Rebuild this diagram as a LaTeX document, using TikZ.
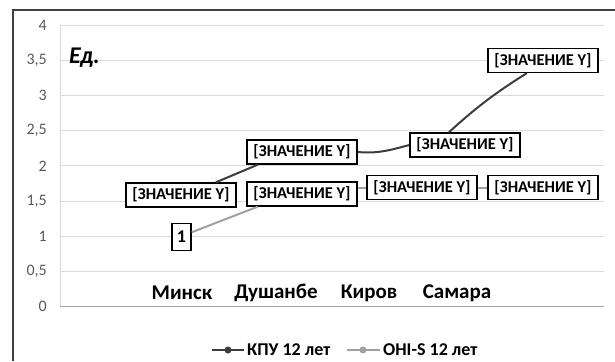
\documentclass[tikz,border=0pt]{standalone}
\usepackage{fontspec}
\setmainfont{Carlito}
\definecolor{darkln}{HTML}{3C3C3C}
\definecolor{grayln}{HTML}{A0A0A0}
\definecolor{gridc}{HTML}{D9D9D9}
\definecolor{axisc}{HTML}{A6A6A6}
\definecolor{ticklab}{HTML}{595959}
\definecolor{framec}{HTML}{404040}
\tikzset{
  vbox/.style={draw=black, line width=1.3pt, fill=white, inner sep=0pt, minimum width=110pt, minimum height=24pt, font=\bfseries\fontsize{16.5}{16.5}\selectfont},
  grid line/.style={draw=gridc, line width=1pt},
  ylab/.style={anchor=east, text=ticklab, font=\fontsize{16}{16}\selectfont, inner sep=0pt},
  catlab/.style={font=\bfseries\fontsize{21}{21}\selectfont, inner sep=0pt},
  kpu/.style={draw=darkln, line width=2pt},
  ohi/.style={draw=grayln, line width=2pt},
  legtext/.style={font=\bfseries\fontsize{18}{18}\selectfont, anchor=west, inner sep=0pt}
}
\begin{document}
\begin{tikzpicture}[x=1pt,y=-1pt]
\useasboundingbox (0,0) rectangle (615,361);
% frame
\draw[framec, line width=1.5pt] (13,361) -- (13,10) -- (615,10);
% grid
\foreach \v in {0.5,1,1.5,2,2.5,3,3.5,4}{
  \draw[grid line] (60,{306.7-70.4*\v}) -- (604,{306.7-70.4*\v});
}
\draw[gridc, line width=1pt] (60,25) -- (60,306.7);
\draw[axisc, line width=1.2pt] (60,306.7) -- (604,306.7);
\foreach \v/\t [count=\i] in {0/0,0.5/{0,5},1/1,1.5/{1,5},2/2,2.5/{2,5},3/3,3.5/{3,5},4/4}{
  \node[ylab] (yl\i) at (47,{306.7-70.4*\v}) {\t};
}
\node[font=\bfseries\itshape\fontsize{24}{24}\selectfont, anchor=west, inner sep=0pt] (ed) at (69,58) {Ед.};
% categories
\node[catlab] (c1) at (182,293) {Минск};
\node[catlab] (c2) at (276,293) {Душанбе};
\node[catlab] (c3) at (369,293) {Киров};
\node[catlab] (c4) at (457,293) {Самара};
% KPU boxes
\node[vbox] (k1) at (181,195) {[ЗНАЧЕНИЕ Y]};
\node[vbox] (k2) at (302,152) {[ЗНАЧЕНИЕ Y]};
\node[vbox] (k3) at (465,145) {[ЗНАЧЕНИЕ Y]};
\node[vbox] (k4) at (543,60.5) {[ЗНАЧЕНИЕ Y]};
% OHI boxes
\node[vbox, minimum width=19pt, minimum height=27pt, font=\bfseries\fontsize{18}{18}\selectfont] (o1) at (181.5,237) {1};
\node[vbox] (o2) at (302,194) {[ЗНАЧЕНИЕ Y]};
\node[vbox] (o3) at (422,187.5) {[ЗНАЧЕНИЕ Y]};
\node[vbox] (o4) at (543,187.5) {[ЗНАЧЕНИЕ Y]};
% connectors
\draw[kpu] (k1.20.6) -- (k2.196);
\draw[kpu] (k2.east) to[out=-5,in=195] (k3.west);
\draw[kpu] (k3.142) to[bend left=5] (k4.218);
\draw[ohi] (o1.25) -- (o2.196);
\draw[ohi] (o3.west -| o2.east) -- (o3.west);
\draw[ohi] (o3.east) -- (o4.west);
% legend
\coordinate (la1) at (212,350);
\coordinate (la2) at (244,350);
\draw[kpu] (la1) -- (la2);
\node[circle, fill=darkln, inner sep=0pt, minimum size=7pt] (lm1) at (228,350) {};
\node[legtext] (lt1) at (247,350) {КПУ 12 лет};
\coordinate (lb1) at (347,350);
\coordinate (lb2) at (380,350);
\draw[ohi] (lb1) -- (lb2);
\node[circle, fill=grayln, inner sep=0pt, minimum size=7pt] (lm2) at (363,350) {};
\node[legtext] (lt2) at (383,350) {OHI-S 12 лет};
\end{tikzpicture}
\end{document}
